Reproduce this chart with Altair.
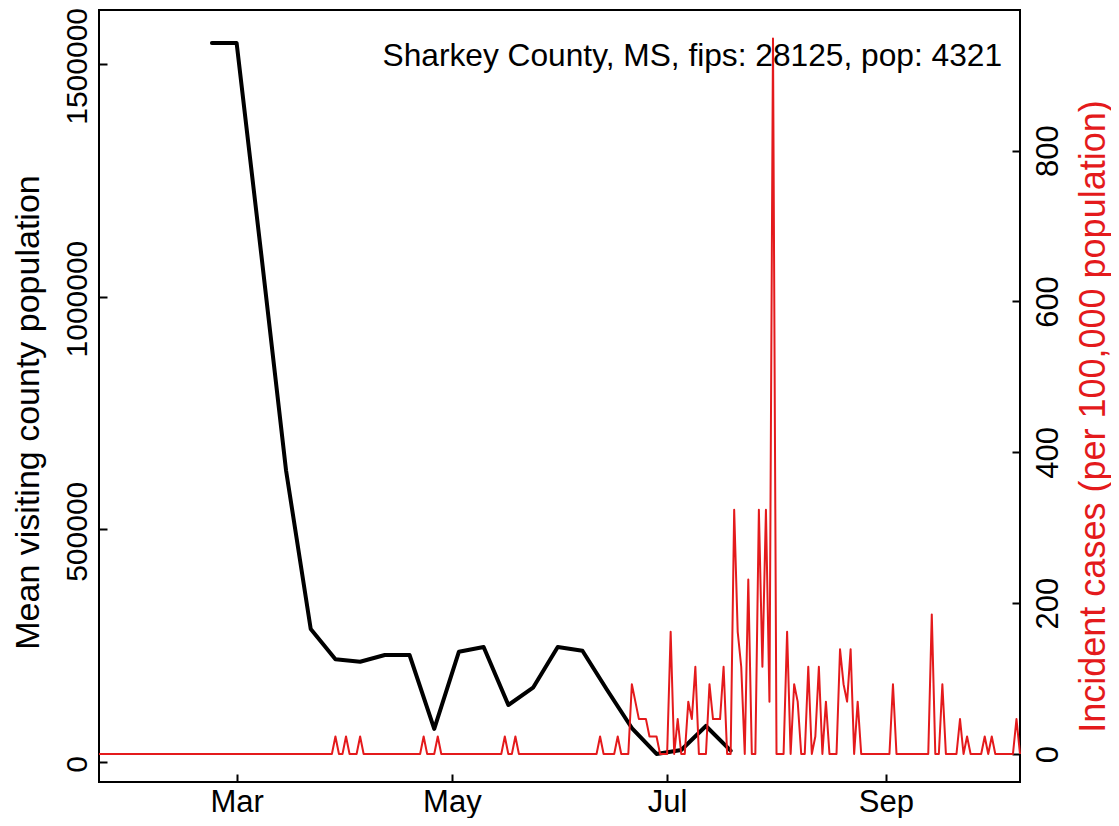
import altair as alt
import pandas as pd

# ---------------- data ----------------
county_label = "Sharkey County, MS, fips: 28125, pop: 4321"
county_pop = 4321

# weekly mean visiting county population (black line)
mob_dates = ["2020-02-23", "2020-03-01", "2020-03-08", "2020-03-15", "2020-03-22",
             "2020-03-29", "2020-04-05", "2020-04-12", "2020-04-19", "2020-04-26",
             "2020-05-03", "2020-05-10", "2020-05-17", "2020-05-24", "2020-05-31",
             "2020-06-07", "2020-06-14", "2020-06-21", "2020-06-28", "2020-07-05",
             "2020-07-12", "2020-07-19"]
mob_values = [1545000, 1545000, 1090000, 627000, 285800,
              220700, 215500, 229900, 229900, 71000,
              237000, 247100, 122500, 159600, 247100,
              239100, 154700, 73000, 17200, 25800,
              77400, 24300]

# daily incident cases (counts), 2020-01-22 .. 2020-10-09
cases_start = "2020-01-22"
cases_jan = [0, 0, 0, 0, 0, 0, 0, 0, 0, 0]
cases_feb = [0, 0, 0, 0, 0, 0, 0, 0, 0, 0, 0, 0, 0, 0, 0, 0, 0, 0, 0, 0,
             0, 0, 0, 0, 0, 0, 0, 0, 0]
cases_mar = [0, 0, 0, 0, 0, 0, 0, 0, 0, 0, 0, 0, 0, 0, 0, 0, 0, 0, 0, 0,
             0, 0, 0, 0, 0, 0, 0, 0, 1, 0, 0]
cases_apr = [1, 0, 0, 0, 1, 0, 0, 0, 0, 0, 0, 0, 0, 0, 0, 0, 0, 0, 0, 0,
             0, 0, 1, 0, 0, 0, 1, 0, 0, 0]
cases_may = [0, 0, 0, 0, 0, 0, 0, 0, 0, 0, 0, 0, 0, 0, 0, 1, 0, 0, 1, 0,
             0, 0, 0, 0, 0, 0, 0, 0, 0, 0, 0]
cases_jun = [0, 0, 0, 0, 0, 0, 0, 0, 0, 0, 0, 1, 0, 0, 0, 0, 1, 0, 0, 0,
             4, 3, 2, 2, 2, 1, 1, 1, 0, 0]
cases_jul = [0, 7, 0, 2, 0, 0, 3, 2, 5, 0, 0, 0, 4, 2, 2, 2, 5, 0, 0, 14,
             7, 5, 0, 10, 0, 0, 14, 5, 14, 3, 41]
cases_aug = [0, 0, 0, 7, 0, 4, 3, 0, 0, 5, 0, 1, 5, 0, 3, 0, 0, 0, 6, 4,
             3, 6, 0, 3, 0, 0, 0, 0, 0, 0, 0]
cases_sep = [0, 0, 4, 0, 0, 0, 0, 0, 0, 0, 0, 0, 0, 8, 0, 0, 4, 0, 0, 0,
             0, 2, 0, 1, 0, 0, 0, 0, 1, 0]
cases_oct = [1, 0, 0, 0, 0, 0, 0, 2, 0]

# axis ticks
x_tick_dates = [(2020, 3, 1), (2020, 5, 1), (2020, 7, 1), (2020, 9, 1)]
left_ticks = [0, 500000, 1000000, 1500000]
right_ticks = [0, 200, 400, 600, 800]

# ---------------- frames ----------------
case_counts = (cases_jan + cases_feb + cases_mar + cases_apr + cases_may +
               cases_jun + cases_jul + cases_aug + cases_sep + cases_oct)
cases_df = pd.DataFrame({
    "date": pd.date_range(cases_start, periods=len(case_counts), freq="D").strftime("%Y-%m-%d"),
    "count": case_counts,
})
cases_df["incidence"] = cases_df["count"] * 100000 / county_pop

mob_df = pd.DataFrame({"date": mob_dates, "value": mob_values})

RED = "#E41A1C"
FONT = "Liberation Sans"
FS = 31      # tick labels

x_scale = alt.Scale(
    type="utc",
    domain=[alt.DateTime(year=2020, month=1, date=22, utc=True),
            alt.DateTime(year=2020, month=10, date=9, utc=True)],
    nice=False,
)
x_axis = alt.Axis(
    values=[alt.DateTime(year=y, month=m, date=d, utc=True) for (y, m, d) in x_tick_dates],
    labelExpr="utcFormat(datum.value, '%b')", title=None, grid=False, domain=False,
    offset=-8, tickSize=8, tickWidth=2, tickColor="black",
    labelPadding=29, labelBaseline="alphabetic",
    labelFont=FONT, labelFontSize=FS, labelColor="black", labelFlush=False,
    labelOverlap=False,
)

black = alt.Chart(mob_df).mark_line(
    color="black", strokeWidth=4, strokeJoin="round", strokeCap="round"
).encode(
    x=alt.X("date:T", scale=x_scale, axis=x_axis),
    y=alt.Y("value:Q",
            scale=alt.Scale(domain=[-42973, 1615818], nice=False, zero=False),
            axis=alt.Axis(orient="left", values=left_ticks, format="d",
                          title="Mean visiting county population",
                          grid=False, domain=False, offset=-8, tickSize=8, tickWidth=2,
                          tickColor="black", labelAngle=-90, labelAlign="center",
                          labelBaseline="alphabetic", labelPadding=13, labelOffset=2,
                          labelFont=FONT, labelFontSize=30, labelColor="black",
                          labelFlush=False, labelOverlap=False,
                          titleFont=FONT, titleFontSize=34, titleFontWeight="normal",
                          titleColor="black", titleAngle=270, titleAlign="center",
                          titleBaseline="alphabetic", titleX=-69, titleY=402)),
)

red = alt.Chart(cases_df).mark_line(
    color=RED, strokeWidth=2, strokeJoin="round"
).encode(
    x=alt.X("date:T", scale=x_scale, axis=x_axis),
    y=alt.Y("incidence:Q",
            scale=alt.Scale(domain=[-37.1, 986.5], nice=False, zero=False),
            axis=alt.Axis(orient="right", values=right_ticks, format="d",
                          title="Incident cases (per 100,000 population)",
                          grid=False, domain=False, offset=-8, tickSize=8, tickWidth=2,
                          tickColor="black", labelAngle=-90, labelAlign="center",
                          labelBaseline="top", labelPadding=13,
                          labelFont=FONT, labelFontSize=FS, labelColor="black",
                          labelFlush=False, labelOverlap=False,
                          titleFont=FONT, titleFontSize=36, titleFontWeight="normal",
                          titleColor=RED, titleAngle=270, titleAlign="center",
                          titleBaseline="alphabetic", titleX=92, titleY=406)),
)

label = alt.Chart(pd.DataFrame({"t": [county_label]})).mark_text(
    align="right", baseline="alphabetic", font=FONT, fontSize=31.7, color="black"
).encode(
    text="t:N", x=alt.value(903), y=alt.value(56)
)

chart = alt.layer(black, red, label).resolve_scale(y="independent").properties(
    width=921, height=772,
    autosize=alt.AutoSizeParams(type="none"),
    padding={"left": 91, "top": 2, "right": 91, "bottom": 36},
    background="white",
).configure_view(stroke="black", strokeWidth=2)

chart.save("out.html", embed_options={"renderer": "svg", "actions": False})
